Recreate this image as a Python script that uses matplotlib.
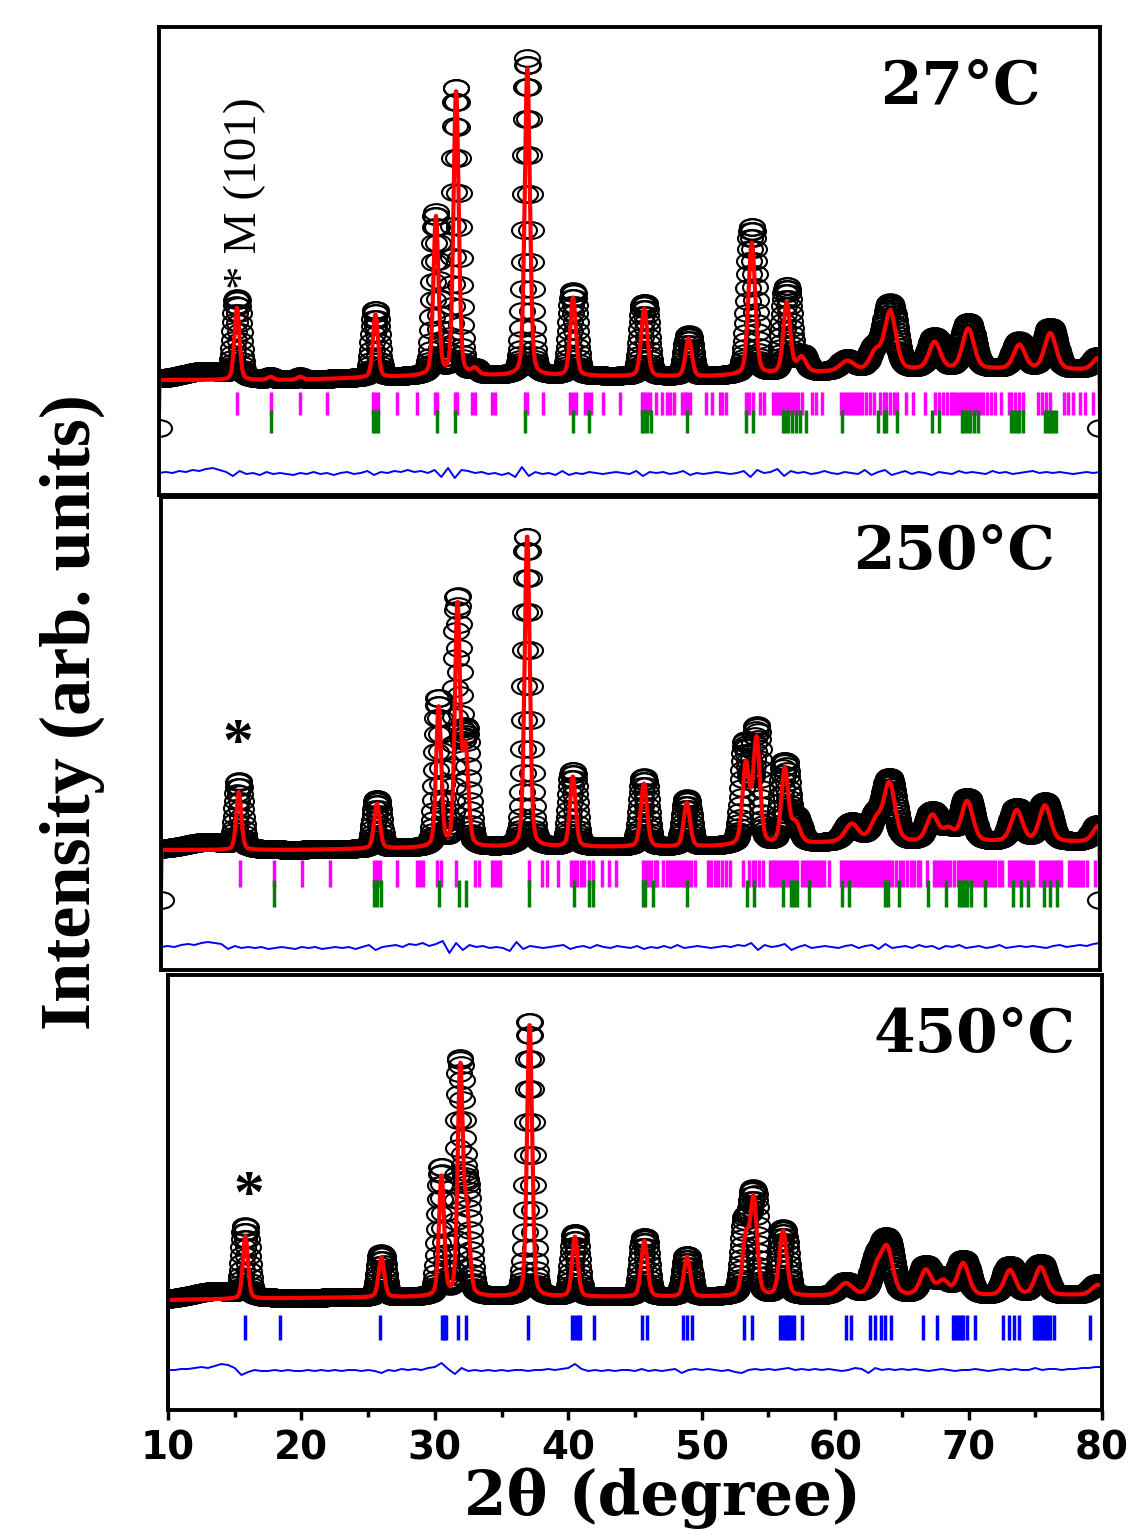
import numpy as np
import matplotlib
matplotlib.use("Agg")
import matplotlib.pyplot as plt
from matplotlib.path import Path
from matplotlib.transforms import Affine2D

# Rietveld refinement patterns at three temperatures (intensity in arb. units)

W, H = 1140, 1535
step = 0.04

# background knots
bg_deg = [10, 20, 30, 40, 50, 60, 70, 80]
bg_27 = [115, 115, 119, 119, 118, 123, 126, 125]
bg_250 = [120, 120, 122, 123, 123, 127, 128, 128]
bg_450 = [110, 112, 113, 113, 113, 114, 114, 115]

# peak tables: position (2theta), calculated height, observed height, FWHM
pos_27 = [13.5, 15.8, 18.3, 20.5, 26.1, 30.6, 32.1, 33.5, 37.4, 40.8, 46.1, 49.4, 54.1,
          56.7, 57.8, 61.2, 63.3, 64.4, 67.7, 70.2, 74.0, 76.3, 79.9]
calc_27 = [0, 72, 3, 3, 63, 158, 285, 6, 307, 78, 68, 38, 132,
           70, 15, 10, 18, 58, 27, 40, 24, 36, 12]
obs_27 = [9, 78, 3, 3, 68, 162, 288, 6, 318, 84, 74, 42, 148,
          86, 18, 12, 22, 66, 32, 46, 28, 42, 14]
fwhm_27 = [4.0, 0.45, 0.5, 0.5, 0.45, 0.45, 0.45, 0.6, 0.45, 0.5, 0.55, 0.55, 0.6,
           0.6, 0.8, 1.2, 1.0, 1.0, 1.0, 1.0, 1.0, 1.0, 1.0]

pos_250 = [13.5, 15.8, 26.1, 30.7, 32.1, 32.7, 37.3, 40.7, 46.0, 49.2, 53.6, 54.4, 56.5,
           57.3, 61.5, 63.3, 64.3, 67.5, 68.7, 70.1, 73.8, 75.9, 79.9]
calc_250 = [0, 58, 45, 140, 240, 95, 312, 70, 63, 44, 80, 105, 74,
            20, 18, 20, 58, 26, 12, 40, 31, 36, 16]
obs_250 = [8, 66, 50, 148, 245, 110, 312, 76, 70, 48, 100, 115, 80,
           25, 20, 24, 62, 30, 14, 44, 34, 40, 18]
fwhm_250 = [4.0, 0.45, 0.5, 0.45, 0.45, 0.5, 0.45, 0.5, 0.55, 0.55, 0.6, 0.6, 0.6,
            0.8, 1.2, 1.0, 1.0, 1.0, 1.0, 1.0, 1.0, 1.0, 1.0]

pos_450 = [13.5, 15.8, 26.0, 30.5, 31.9, 32.4, 37.1, 40.5, 45.7, 48.9, 53.3, 53.9, 56.1,
           60.8, 63.1, 63.9, 66.8, 68.1, 69.6, 73.1, 75.4, 79.7]
calc_450 = [0, 63, 40, 120, 225, 80, 273, 60, 56, 40, 55, 95, 65,
            12, 25, 45, 25, 14, 32, 25, 28, 10]
obs_450 = [8, 70, 44, 128, 228, 95, 276, 64, 60, 42, 70, 100, 67,
           14, 30, 52, 30, 18, 36, 30, 32, 12]
fwhm_450 = [4.0, 0.45, 0.5, 0.45, 0.45, 0.5, 0.45, 0.5, 0.55, 0.55, 0.6, 0.6, 0.65,
            1.2, 1.0, 1.0, 1.0, 1.0, 1.0, 1.0, 1.0, 1.1]

# first/last recorded points (27 and 250 C scans)
edge_obs = {"27": 67, "250": 70}
edge_calc = {"27": 83, "250": 83}

# Bragg reflection positions
mag_27 = [15.8, 18.3, 20.5, 22.5, 25.9, 26.1, 26.3, 27.7, 29.2, 30.5, 30.7, 32.0, 32.2, 33.3,
          33.5, 34.8, 35.0, 37.2, 37.4, 38.6, 40.6, 40.8, 41.0, 41.7, 41.9, 42.1, 43.0, 44.3,
          45.9, 46.1, 46.3, 46.5, 47.0, 47.4, 47.8, 48.0, 48.3, 48.9, 49.1, 49.3, 49.5, 50.7,
          51.1, 51.7, 51.9, 52.2, 53.7, 53.9, 54.2, 54.7, 55.0, 55.7, 55.9, 56.1, 56.3, 56.5,
          56.7, 56.9, 57.1, 57.3, 57.5, 57.8, 58.6, 58.9, 59.3, 60.7, 60.9, 61.1, 61.3, 61.5,
          61.7, 61.9, 62.1, 62.3, 62.6, 62.9, 63.2, 63.6, 63.9, 64.1, 64.4, 64.7, 64.9, 65.6,
          66.1, 67.0, 67.7, 68.0, 68.3, 68.6, 68.9, 69.1, 69.3, 69.5, 69.7, 69.9, 70.1, 70.3,
          70.5, 70.7, 70.9, 71.1, 71.3, 71.6, 71.9, 72.2, 72.6, 73.2, 73.4, 73.7, 74.0, 74.3,
          75.4, 75.7, 76.0, 76.3, 77.3, 77.6, 78.0, 78.5, 78.9, 79.5]
green_27 = [18.3, 25.9, 26.1, 26.3, 30.7, 32.0, 37.2, 40.8, 42.0, 45.9, 46.1, 46.3, 46.6, 49.3,
            53.7, 54.2, 56.4, 56.6, 56.8, 57.1, 57.4, 57.7, 58.1, 60.8, 63.5, 63.9, 64.1, 64.9,
            67.5, 68.0, 69.7, 69.9, 70.1, 70.3, 70.6, 70.9, 73.4, 73.6, 73.8, 74.0, 74.3, 75.9,
            76.1, 76.3, 76.5, 76.7]

mag_250 = [15.9, 18.4, 20.5, 22.6, 25.9, 26.1, 26.3, 27.6, 29.1, 29.3, 29.5, 30.6, 30.9, 32.0,
           33.4, 33.7, 34.7, 34.9, 35.1, 35.3, 37.4, 38.4, 38.8, 39.6, 40.6, 40.8, 41.0, 41.3,
           41.5, 41.9, 42.2, 42.9, 43.4, 43.9, 45.9, 46.1, 46.3, 46.5, 46.8, 47.0, 47.4, 47.7,
           47.9, 48.1, 48.3, 48.5, 48.7, 48.9, 49.1, 49.3, 49.5, 49.8, 50.8, 51.0, 51.3, 51.5,
           51.8, 52.1, 52.4, 53.4, 53.8, 54.1, 54.3, 54.6, 54.9, 55.4, 55.6, 55.8, 56.0, 56.2,
           56.4, 56.6, 56.8, 57.0, 57.2, 57.4, 57.8, 58.0, 58.2, 58.4, 58.6, 58.8, 59.0, 59.2,
           59.4, 59.8, 60.7, 60.9, 61.1, 61.3, 61.5, 61.7, 61.9, 62.1, 62.3, 62.5, 62.7, 62.9,
           63.1, 63.3, 63.5, 63.7, 63.9, 64.1, 64.3, 64.5, 64.8, 65.1, 65.3, 65.6, 65.9, 66.1,
           66.4, 66.6, 67.1, 67.6, 67.8, 68.0, 68.2, 68.4, 68.6, 68.8, 69.1, 69.4, 69.6, 69.8,
           70.0, 70.2, 70.4, 70.6, 70.8, 71.0, 71.2, 71.4, 71.6, 71.8, 72.0, 72.2, 72.5, 72.7,
           73.2, 73.4, 73.6, 73.8, 74.0, 74.2, 74.4, 74.6, 74.8, 75.0, 75.5, 75.7, 75.9, 76.1,
           76.3, 76.5, 76.7, 76.9, 77.1, 77.7, 77.9, 78.1, 78.3, 78.5, 78.7, 79.0, 79.6, 79.9]
green_250 = [18.4, 25.9, 26.1, 26.4, 30.7, 32.2, 32.7, 37.4, 40.8, 41.9, 42.2, 45.9, 46.1, 46.7,
             49.2, 53.7, 54.2, 56.4, 57.0, 57.2, 57.4, 58.3, 60.8, 61.3, 64.0, 64.2, 65.0, 67.2,
             68.5, 69.5, 69.7, 69.9, 70.1, 70.4, 71.4, 73.5, 74.1, 74.6, 75.8, 76.3, 76.8]

blue_450 = [15.8, 18.4, 25.9, 30.5, 30.7, 30.8, 31.7, 32.3, 37.0, 40.3, 40.5, 40.7, 40.9, 41.9,
            45.5, 45.9, 48.6, 48.9, 49.3, 53.2, 53.8, 55.9, 56.1, 56.3, 56.5, 56.7, 56.9, 57.5,
            60.8, 61.2, 62.6, 63.0, 63.4, 63.7, 64.2, 66.6, 67.6, 68.8, 69.0, 69.2, 69.4, 69.6,
            69.9, 70.5, 72.6, 73.0, 73.4, 73.8, 74.9, 75.1, 75.3, 75.5, 75.7, 75.9, 76.1, 76.4,
            79.1]

# difference (obs - calc), sampled every 0.5 deg from 10 to 80
diff_27 = [0, 1, 0, 2, 1, 3, 2, 4, 5, 3,
           1, -3, 2, -1, 0, -2, 1, -1, 0, -1,
           -2, 0, -1, 1, -1, 0, -2, 0, 1, -1,
           0, 2, -2, 1, 0, 2, 1, 3, 1, 2,
           0, 3, -4, 5, -5, 3, 2, 0, 1, -1,
           0, -2, 0, -4, 6, -3, 1, -1, 0, -2,
           2, -2, 0, -1, 1, 0, -1, 0, 1, 0,
           -1, 2, -3, 1, 0, 1, -1, 0, 2, -2,
           0, -1, 0, 1, 0, -1, 0, 2, -4, 3,
           0, 1, 4, -3, 2, 0, 1, -1, 0, 2,
           0, -1, 1, 0, -1, 3, -2, 1, 3, -2,
           0, 2, -1, 1, 0, -2, 1, 0, -1, 2,
           0, 1, 0, -1, 2, 0, 1, -1, 0, 1,
           2, 0, 1, 0, 1, 0, -1, 0, 1, 0,
           1]
diff_250 = [0, 1, 0, 2, 3, 2, 4, 5, 4, 3,
            -2, 1, -1, 0, -1, 0, -2, -1, 0, -1,
            -2, 0, -1, 0, -2, -1, 0, -1, 0, -2,
            0, 2, -3, 0, 1, 2, 0, 3, 2, 4,
            1, 3, 6, -6, 4, -3, 2, 0, 1, -1,
            0, -1, -4, 5, -2, 1, 0, -1, 0, 1,
            2, -2, 0, 1, -1, 2, 0, -1, 1, 0,
            -1, 1, -2, 0, -1, 1, -1, 2, -1, 0,
            1, 0, -1, 0, 1, 0, 2, 1, 4, -3,
            2, 0, 1, 3, -3, 0, 2, -1, 0, 1,
            0, -1, 1, 2, -1, 1, 2, -2, 3, -1,
            0, 1, -1, 2, 0, 1, -2, 1, 0, 2,
            -1, 0, 1, -1, 0, 2, -1, 0, 1, 0,
            1, 0, -1, 1, 2, 0, 1, 2, 1, 3,
            4]
diff_450 = [0, 0, 1, 1, 2, 3, 2, 4, 6, 5,
            2, -5, -2, 0, -1, -1, 0, -1, 0, -1,
            -1, 0, -1, 0, -1, 0, -1, 0, 0, -1,
            0, -1, -3, 0, -1, 1, 0, 1, 0, 2,
            3, 7, 1, -4, 2, -1, 0, -1, 0, -1,
            0, -1, 0, 0, -1, 0, 0, 1, 0, 1,
            2, 6, 1, -1, 0, -1, 0, -1, 0, 0,
            -1, 1, -1, 0, -1, 0, 1, -3, 0, 1,
            0, 1, 0, -1, 0, -2, -3, 0, 1, 0,
            1, 0, 1, 2, 0, 1, 0, 1, 0, 1,
            0, -1, 0, 2, 1, -3, 2, 0, 1, 0,
            1, 0, 1, 0, -1, 0, 1, 0, -1, 0,
            0, 1, 0, -1, 0, 1, 0, 1, 0, 0,
            2, 0, 1, 1, 0, 1, 1, 2, 2, 3,
            3]


def profile(x, pos, heights, widths, eta=0.3):
    y = np.zeros_like(x)
    for p, h, w in zip(pos, heights, widths):
        u = (x - p) / w
        y += h * ((1 - eta) * np.exp(-4 * np.log(2) * u ** 2) + eta / (1 + 4 * u ** 2))
    return y


def box(left, top, right, bottom):
    return [left / W, 1 - bottom / H, (right - left) / W, (bottom - top) / H]


ellipse = Path.unit_circle().transformed(Affine2D().scale(1.5, 1.0))

panels = [
    dict(key="27", frame=(159, 27, 1100, 495), bg=bg_27, pos=pos_27, calc=calc_27, obs=obs_27,
         fwhm=fwhm_27, diff=diff_27, diff_base=22,
         ticks=[(mag_27, 80, 103, "#ff00ff"), (green_27, 62, 85, "#008000")]),
    dict(key="250", frame=(161, 497, 1100, 970), bg=bg_250, pos=pos_250, calc=calc_250,
         obs=obs_250, fwhm=fwhm_250, diff=diff_250, diff_base=23,
         ticks=[(mag_250, 83, 110, "#ff00ff"), (green_250, 63, 90, "#008000")]),
    dict(key="450", frame=(168, 975, 1102, 1410), bg=bg_450, pos=pos_450, calc=calc_450,
         obs=obs_450, fwhm=fwhm_450, diff=diff_450, diff_base=40,
         ticks=[(blue_450, 70, 95, "#0000ff")]),
]

fig = plt.figure(figsize=(W / 100, H / 100), dpi=100)

for p in panels:
    left, top, right, bottom = p["frame"]
    ax = fig.add_axes(box(left, top, right, bottom))
    x = np.arange(10, 80 + step / 2, step)
    bg = np.interp(x, bg_deg, p["bg"])
    y_calc = bg + profile(x, p["pos"], p["calc"], p["fwhm"])
    y_obs = bg + profile(x, p["pos"], p["obs"], p["fwhm"])
    if p["key"] in edge_obs:
        y_obs[[0, -1]] = edge_obs[p["key"]]
        y_calc[[0, -1]] = edge_calc[p["key"]]

    ax.plot(x, y_obs, ls="none", marker=ellipse, ms=18, mfc="none", mec="black", mew=1.5)
    ax.plot(x, y_calc, color="red", lw=3)
    for positions, y0, y1, color in p["ticks"]:
        ax.vlines(positions, y0, y1, colors=color, lw=2.5)
    dx = np.arange(10, 80.01, 0.5)
    ax.plot(dx, p["diff_base"] + np.array(p["diff"]), color="blue", lw=1.4)

    ax.set_xlim(10, 80)
    ax.set_ylim(0, bottom - top)
    ax.set_yticks([])
    for s in ax.spines.values():
        s.set_linewidth(2.8)
    if p["key"] == "450":
        ax.set_xticks(range(10, 81, 10))
        ax.set_xticks(range(15, 80, 10), minor=True)
        ax.tick_params(axis="x", which="major", direction="out", length=7, width=2.5, pad=7,
                       labelsize=28)
        ax.tick_params(axis="x", which="minor", direction="out", length=5, width=2.5)
        for t in ax.get_xticklabels():
            t.set_fontfamily("DejaVu Sans")
            t.set_fontweight("bold")
    else:
        ax.set_xticks([])


def px(x, y):
    return x / W, 1 - y / H


title_font = dict(family="DejaVu Serif", weight="bold", fontsize=43)
fig.text(*px(1041, 104), "27°C", ha="right", va="baseline", **title_font)
fig.text(*px(1055, 569), "250°C", ha="right", va="baseline", **title_font)
fig.text(*px(1075, 1052), "450°C", ha="right", va="baseline", **title_font)

fig.text(*px(245, 193), "* M (101)", rotation=90, ha="center", va="center",
         family="Liberation Serif", fontsize=34)
fig.text(*px(238, 745), "*", ha="center", va="center", family="Liberation Serif",
         weight="bold", fontsize=44)
fig.text(*px(249, 1197), "*", ha="center", va="center", family="Liberation Serif",
         weight="bold", fontsize=44)

fig.text(*px(72, 712), "Intensity (arb. units)", rotation=90, ha="center", va="center",
         family="Liberation Serif", weight="bold", fontsize=52)
fig.text(*px(662, 1515), "2θ (degree)", ha="center", va="baseline",
         family="DejaVu Serif", weight="bold", fontsize=44)

fig.savefig("out.png", dpi=100)
